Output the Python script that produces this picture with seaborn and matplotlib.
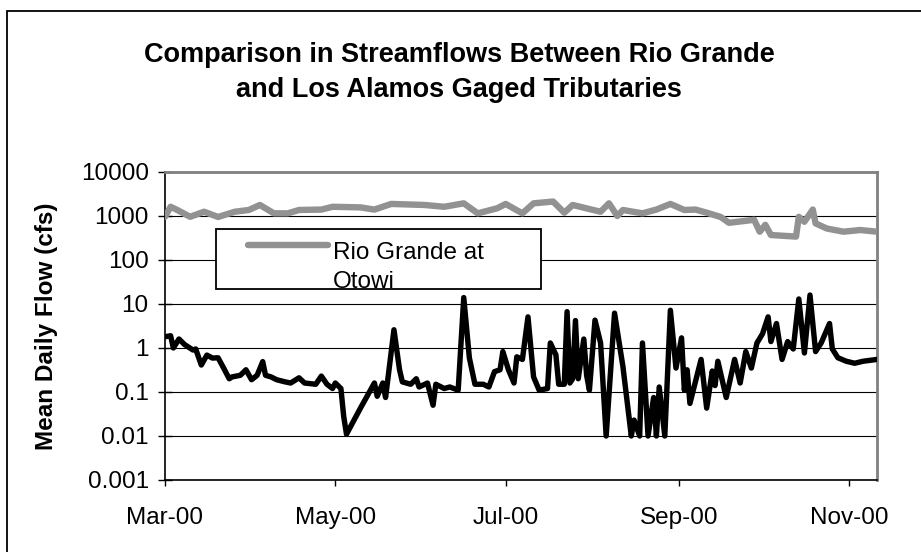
import pandas as pd
import matplotlib.pyplot as plt
import matplotlib.dates as mdates
from matplotlib.patches import Rectangle
from matplotlib.lines import Line2D
from matplotlib.ticker import FixedLocator, FixedFormatter, NullLocator
import seaborn as sns

sns.set_style('white')
plt.rcParams['font.family'] = ['Liberation Sans', 'DejaVu Sans']
plt.rcParams.update({'text.color': 'black', 'axes.labelcolor': 'black',
                     'xtick.color': 'black', 'ytick.color': 'black'})

# Rio Grande at Otowi
rio_dates = ['2000-03-01', '2000-03-03', '2000-03-05', '2000-03-10', '2000-03-15',
             '2000-03-20', '2000-03-26', '2000-03-31', '2000-04-04', '2000-04-09',
             '2000-04-14', '2000-04-18', '2000-04-26', '2000-04-30', '2000-05-10',
             '2000-05-15', '2000-05-21', '2000-06-02', '2000-06-09', '2000-06-16',
             '2000-06-21', '2000-06-28', '2000-07-01', '2000-07-07', '2000-07-11',
             '2000-07-18', '2000-07-22', '2000-07-25', '2000-08-04', '2000-08-07',
             '2000-08-10', '2000-08-12', '2000-08-19', '2000-08-24', '2000-08-29',
             '2000-09-03', '2000-09-07', '2000-09-11', '2000-09-16', '2000-09-19',
             '2000-09-28', '2000-09-30', '2000-10-02', '2000-10-04', '2000-10-07',
             '2000-10-13', '2000-10-14', '2000-10-16', '2000-10-19', '2000-10-20',
             '2000-10-24', '2000-10-30', '2000-11-05', '2000-11-11']
rio_flow = [960, 1620, 1410, 960, 1250,
            950, 1250, 1370, 1780, 1150,
            1150, 1370, 1400, 1620, 1570,
            1400, 1880, 1780, 1620, 1940,
            1150, 1500, 1880, 1150, 1940,
            2130, 1190, 1780, 1250, 1940,
            1000, 1370, 1150, 1400, 1880,
            1370, 1400, 1190, 950, 700,
            820, 440, 630, 370, 360,
            340, 960, 740, 1400, 680,
            520, 440, 480, 440]

# Los Alamos gaged tributaries
la_dates = ['2000-03-01', '2000-03-03', '2000-03-04', '2000-03-06', '2000-03-08',
            '2000-03-11', '2000-03-12', '2000-03-14', '2000-03-16', '2000-03-18',
            '2000-03-20', '2000-03-22', '2000-03-24', '2000-03-25', '2000-03-28',
            '2000-03-30', '2000-04-01', '2000-04-03', '2000-04-05', '2000-04-06',
            '2000-04-08', '2000-04-10', '2000-04-13', '2000-04-15', '2000-04-18',
            '2000-04-20', '2000-04-24', '2000-04-26', '2000-04-28', '2000-04-30',
            '2000-05-01', '2000-05-03', '2000-05-04', '2000-05-05', '2000-05-10',
            '2000-05-15', '2000-05-16', '2000-05-18', '2000-05-19', '2000-05-22',
            '2000-05-24', '2000-05-25', '2000-05-28', '2000-05-30', '2000-05-31',
            '2000-06-03', '2000-06-05', '2000-06-06', '2000-06-09', '2000-06-11',
            '2000-06-14', '2000-06-16', '2000-06-18', '2000-06-20', '2000-06-23',
            '2000-06-25', '2000-06-27', '2000-06-29', '2000-06-30', '2000-07-02',
            '2000-07-04', '2000-07-05', '2000-07-07', '2000-07-09', '2000-07-11',
            '2000-07-13', '2000-07-16', '2000-07-17', '2000-07-19', '2000-07-20',
            '2000-07-22', '2000-07-23', '2000-07-24', '2000-07-25', '2000-07-26',
            '2000-07-27', '2000-07-29', '2000-07-30', '2000-07-31', '2000-08-02',
            '2000-08-04', '2000-08-06', '2000-08-09', '2000-08-12', '2000-08-15',
            '2000-08-16', '2000-08-18', '2000-08-19', '2000-08-21', '2000-08-23',
            '2000-08-24', '2000-08-25', '2000-08-27', '2000-08-29', '2000-08-31',
            '2000-09-02', '2000-09-03', '2000-09-04', '2000-09-05', '2000-09-09',
            '2000-09-11', '2000-09-13', '2000-09-14', '2000-09-15', '2000-09-18',
            '2000-09-21', '2000-09-23', '2000-09-25', '2000-09-27', '2000-09-29',
            '2000-10-01', '2000-10-03', '2000-10-04', '2000-10-06', '2000-10-08',
            '2000-10-10', '2000-10-12', '2000-10-14', '2000-10-16', '2000-10-18',
            '2000-10-20', '2000-10-22', '2000-10-25', '2000-10-26', '2000-10-28',
            '2000-10-31', '2000-11-03', '2000-11-06', '2000-11-11']
la_flow = [1.8, 1.9, 1.0, 1.6, 1.2,
           0.9, 0.95, 0.41, 0.69, 0.59,
           0.6, 0.35, 0.2, 0.22, 0.24,
           0.32, 0.19, 0.24, 0.49, 0.24,
           0.22, 0.19, 0.17, 0.16, 0.21,
           0.16, 0.15, 0.23, 0.15, 0.12,
           0.16, 0.12, 0.028, 0.011, 0.043,
           0.16, 0.08, 0.16, 0.075, 2.6,
           0.32, 0.17, 0.15, 0.2, 0.13,
           0.16, 0.05, 0.15, 0.12, 0.13,
           0.11, 14, 0.6, 0.15, 0.15,
           0.13, 0.29, 0.32, 0.83, 0.32,
           0.16, 0.63, 0.55, 5.1, 0.22,
           0.11, 0.12, 1.3, 0.7, 0.15,
           0.15, 6.7, 0.16, 0.2, 4.2,
           0.2, 1.6, 0.24, 0.11, 4.3,
           1.3, 0.01, 6.2, 0.38, 0.01,
           0.023, 0.01, 1.3, 0.01, 0.075,
           0.01, 0.13, 0.01, 7.2, 0.35,
           1.7, 0.11, 0.32, 0.055, 0.55,
           0.043, 0.3, 0.14, 0.5, 0.075,
           0.55, 0.16, 0.83, 0.35, 1.3,
           2.1, 5.1, 1.4, 3.6, 0.55,
           1.4, 0.95, 13, 0.77, 16,
           0.83, 1.3, 3.6, 0.95, 0.6,
           0.5, 0.45, 0.5, 0.55]

y_ticks = [0.001, 0.01, 0.1, 1, 10, 100, 1000, 10000]
y_labels = ['0.001', '0.01', '0.1', '1', '10', '100', '1000', '10000']
x_ticks = ['2000-03-01', '2000-05-01', '2000-07-01', '2000-09-01', '2000-11-01']

rio = pd.DataFrame({'date': pd.to_datetime(rio_dates), 'flow': rio_flow})
la = pd.DataFrame({'date': pd.to_datetime(la_dates), 'flow': la_flow})

W, H = 921, 552
fig = plt.figure(figsize=(W / 100, H / 100), dpi=100)
ax = fig.add_axes([165 / W, 72 / H, 712 / W, 308 / H])

rio_color = '#929292'
sns.lineplot(data=rio, x='date', y='flow', ax=ax, color=rio_color, lw=4.6,
             legend=False, zorder=3)
sns.lineplot(data=la, x='date', y='flow', ax=ax, color='black', lw=3.9,
             legend=False, zorder=3)

ax.set_yscale('log')
ax.set_ylim(0.001, 10000)
ax.yaxis.set_major_locator(FixedLocator(y_ticks))
ax.yaxis.set_major_formatter(FixedFormatter(y_labels))
ax.yaxis.set_minor_locator(NullLocator())
ax.set_xlim(pd.Timestamp('2000-03-01'), pd.Timestamp(la_dates[-1]))
ax.set_xticks(pd.to_datetime(x_ticks))
ax.xaxis.set_major_formatter(mdates.DateFormatter('%b-%y'))
ax.xaxis.set_minor_locator(NullLocator())

ax.grid(axis='y', color='black', lw=0.8, zorder=1)
ax.grid(axis='x', visible=False)
ax.tick_params(axis='y', direction='inout', length=9.5, width=1, pad=7,
               labelsize=17.5, left=True)
ax.tick_params(axis='x', direction='out', length=4.5, width=1, pad=15,
               labelsize=17.5, bottom=True)
for s in ['left', 'bottom']:
    ax.spines[s].set_color('black')
    ax.spines[s].set_linewidth(1.2)
for s in ['top', 'right']:
    ax.spines[s].set_color('#808080')
    ax.spines[s].set_linewidth(2)

ax.set_xlabel('')
ax.set_ylabel('Mean Daily Flow (cfs)', fontsize=17.5, fontweight='bold', va='center')
ax.yaxis.set_label_coords((46 - 165) / 712, 0.5)

# title (two lines)
fig.text(0.4985, 1 - 62 / H, 'Comparison in Streamflows Between Rio Grande',
         ha='center', va='baseline', fontsize=19.5, fontweight='bold')
fig.text(0.4985, 1 - 97 / H, 'and Los Alamos Gaged Tributaries',
         ha='center', va='baseline', fontsize=19.5, fontweight='bold')

# legend box, text clipped by the frame as in the original
box = Rectangle((216 / W, 1 - 289 / H), (541 - 216) / W, 60 / H,
                transform=fig.transFigure, facecolor='white', edgecolor='black',
                lw=1.3, zorder=5)
fig.add_artist(box)
fig.add_artist(Line2D([248 / W, 328 / W], [1 - 245 / H, 1 - 245 / H],
                      transform=fig.transFigure, color=rio_color, lw=4.6, zorder=6))
for txt, yb in [('Rio Grande at', 259), ('Otowi', 288)]:
    t = fig.text(333 / W, 1 - yb / H, txt, ha='left', va='baseline',
                 fontsize=17.5, zorder=6)
    t.set_clip_path(box)

# outer chart border
fig.add_artist(Rectangle((7 / W, -0.05), 1.1, 1.05 - 11 / H,
                         transform=fig.transFigure, fill=False,
                         edgecolor='black', lw=1.3))

fig.savefig('out.png', dpi=100)
